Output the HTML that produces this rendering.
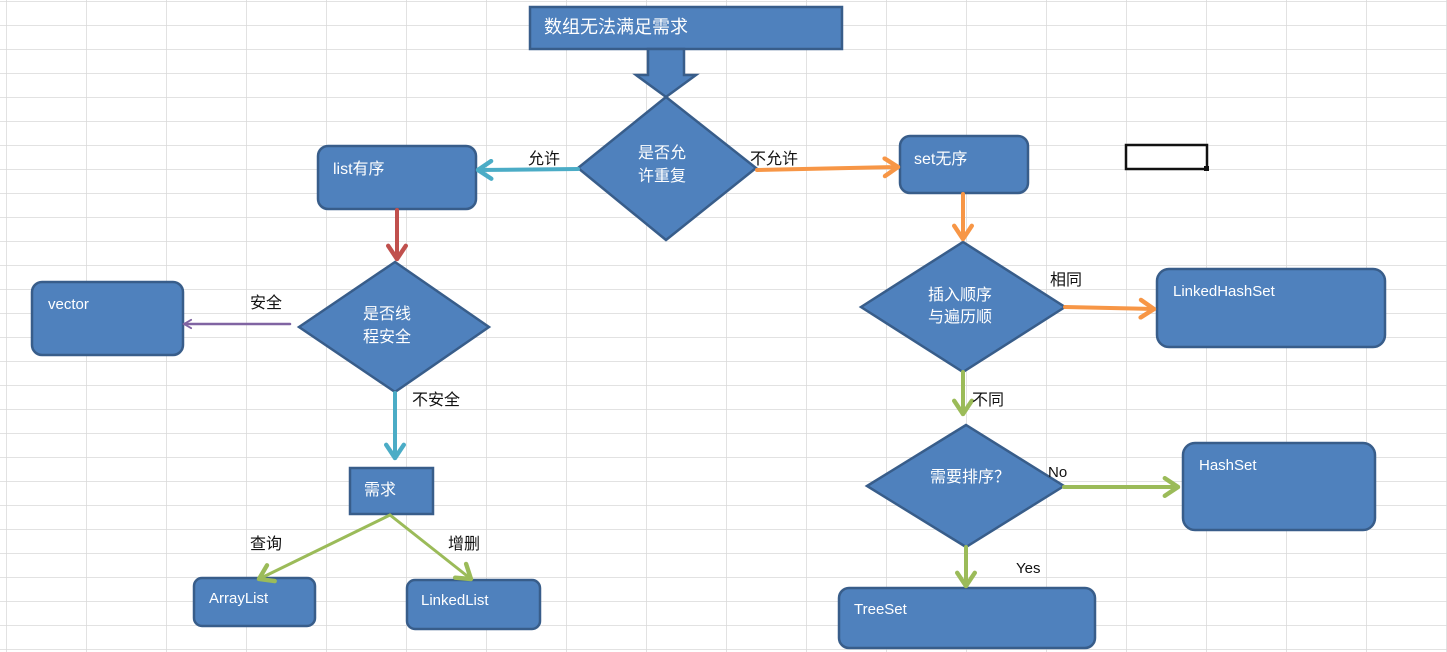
<!DOCTYPE html>
<html><head><meta charset="utf-8"><style>
html,body{margin:0;padding:0;background:#fff}
svg{display:block}
text{font-family:"Liberation Sans","Noto Sans CJK SC",sans-serif}
</style></head><body>
<svg width="1447" height="652" viewBox="0 0 1447 652" xmlns="http://www.w3.org/2000/svg">
<defs>
<pattern id="g" x="6" y="1" width="80" height="24" patternUnits="userSpaceOnUse">
<path d="M0 0V24M0 0H80" stroke="#d9d9d9" stroke-width="1.5" fill="none"/>
</pattern>
<marker id="mc" markerUnits="userSpaceOnUse" viewBox="0 0 20 20" refX="16" refY="10" markerWidth="22" markerHeight="22" orient="auto"><path d="M4 2L16 10L4 18" fill="none" stroke="#4bacc6" stroke-width="4" stroke-linecap="round" stroke-linejoin="round"/></marker>
<marker id="mo" markerUnits="userSpaceOnUse" viewBox="0 0 20 20" refX="16" refY="10" markerWidth="22" markerHeight="22" orient="auto"><path d="M4 2L16 10L4 18" fill="none" stroke="#f79646" stroke-width="4" stroke-linecap="round" stroke-linejoin="round"/></marker>
<marker id="mg" markerUnits="userSpaceOnUse" viewBox="0 0 20 20" refX="16" refY="10" markerWidth="22" markerHeight="22" orient="auto"><path d="M4 2L16 10L4 18" fill="none" stroke="#9bbb59" stroke-width="4" stroke-linecap="round" stroke-linejoin="round"/></marker>
<marker id="mr" markerUnits="userSpaceOnUse" viewBox="0 0 20 20" refX="16" refY="10" markerWidth="22" markerHeight="22" orient="auto"><path d="M4 2L16 10L4 18" fill="none" stroke="#c0504d" stroke-width="4" stroke-linecap="round" stroke-linejoin="round"/></marker>
<marker id="mp" markerUnits="userSpaceOnUse" viewBox="0 0 20 20" refX="16" refY="10" markerWidth="12" markerHeight="12" orient="auto"><path d="M4 3L16 10L4 17" fill="none" stroke="#8064a2" stroke-width="3" stroke-linecap="round"/></marker>
</defs>
<rect width="1447" height="652" fill="url(#g)"/>
<rect x="1126" y="145" width="81" height="24" fill="none" stroke="#111" stroke-width="2.5"/>
<rect x="1204" y="166" width="5" height="5" fill="#111"/>

<g fill="#4f81bd" stroke="#385d8a" stroke-width="2.5">
<rect x="530" y="7" width="312" height="42"/>
<path d="M648 49H684V75H696L666 97L636 75H648Z"/>
<path d="M578 168L666 97L756 168L666 240Z"/>
<rect x="318" y="146" width="158" height="63" rx="10"/>
<rect x="900" y="136" width="128" height="57" rx="10"/>
<path d="M861 307L963 242L1065 307L963 372Z"/>
<rect x="1157" y="269" width="228" height="78" rx="12"/>
<path d="M867 486L966 425L1064 486L966 547Z"/>
<rect x="1183" y="443" width="192" height="87" rx="12"/>
<rect x="839" y="588" width="256" height="60" rx="10"/>
<path d="M299 327L395 262L489 327L395 392Z"/>
<rect x="32" y="282" width="151" height="73" rx="10"/>
<rect x="350" y="468" width="83" height="46"/>
<rect x="194" y="578" width="121" height="48" rx="8"/>
<rect x="407" y="580" width="133" height="49" rx="8"/>
</g>

<g fill="none" stroke-width="4" stroke-linecap="round">
<path d="M578 169L478 170" stroke="#4bacc6" marker-end="url(#mc)"/>
<path d="M757 170L898 167" stroke="#f79646" marker-end="url(#mo)"/>
<path d="M963 194L963 239" stroke="#f79646" marker-end="url(#mo)"/>
<path d="M1065 307L1154 309" stroke="#f79646" marker-end="url(#mo)"/>
<path d="M963 372L963 414" stroke="#9bbb59" marker-end="url(#mg)"/>
<path d="M1064 487L1178 487" stroke="#9bbb59" marker-end="url(#mg)"/>
<path d="M966 547L966 586" stroke="#9bbb59" marker-end="url(#mg)"/>
<path d="M397 210L397 259" stroke="#c0504d" marker-end="url(#mr)"/>
<path d="M290 324L184 324" stroke="#8064a2" stroke-width="2.5" marker-end="url(#mp)"/>
<path d="M395 393L395 458" stroke="#4bacc6" marker-end="url(#mc)"/>
<path d="M390 515L259 579" stroke="#9bbb59" stroke-width="3" marker-end="url(#mg)"/>
<path d="M390 515L471 579" stroke="#9bbb59" stroke-width="3" marker-end="url(#mg)"/>
</g>

<g fill="#fff" font-size="16">
<text x="544" y="33" font-size="18">数组无法满足需求</text>
<text x="662" y="158" text-anchor="middle">是否允</text>
<text x="662" y="181" text-anchor="middle">许重复</text>
<text x="333" y="174">list有序</text>
<text x="914" y="164">set无序</text>
<text x="960" y="300" text-anchor="middle">插入顺序</text>
<text x="960" y="322" text-anchor="middle">与遍历顺</text>
<text x="1173" y="296" font-size="15">LinkedHashSet</text>
<text x="970" y="482" text-anchor="middle">需要排序？</text>
<text x="1199" y="470" font-size="15">HashSet</text>
<text x="854" y="614" font-size="15">TreeSet</text>
<text x="387" y="319" text-anchor="middle">是否线</text>
<text x="387" y="342" text-anchor="middle">程安全</text>
<text x="48" y="309" font-size="15">vector</text>
<text x="364" y="495">需求</text>
<text x="209" y="603" font-size="15">ArrayList</text>
<text x="421" y="605" font-size="15">LinkedList</text>
</g>
<g fill="#111" font-size="16">
<text x="528" y="164">允许</text>
<text x="750" y="164">不允许</text>
<text x="1050" y="285">相同</text>
<text x="972" y="405">不同</text>
<text x="1048" y="477" font-size="15">No</text>
<text x="1016" y="573" font-size="15">Yes</text>
<text x="250" y="308">安全</text>
<text x="412" y="405">不安全</text>
<text x="250" y="549">查询</text>
<text x="448" y="549">增删</text>
</g>
</svg>
</body></html>
